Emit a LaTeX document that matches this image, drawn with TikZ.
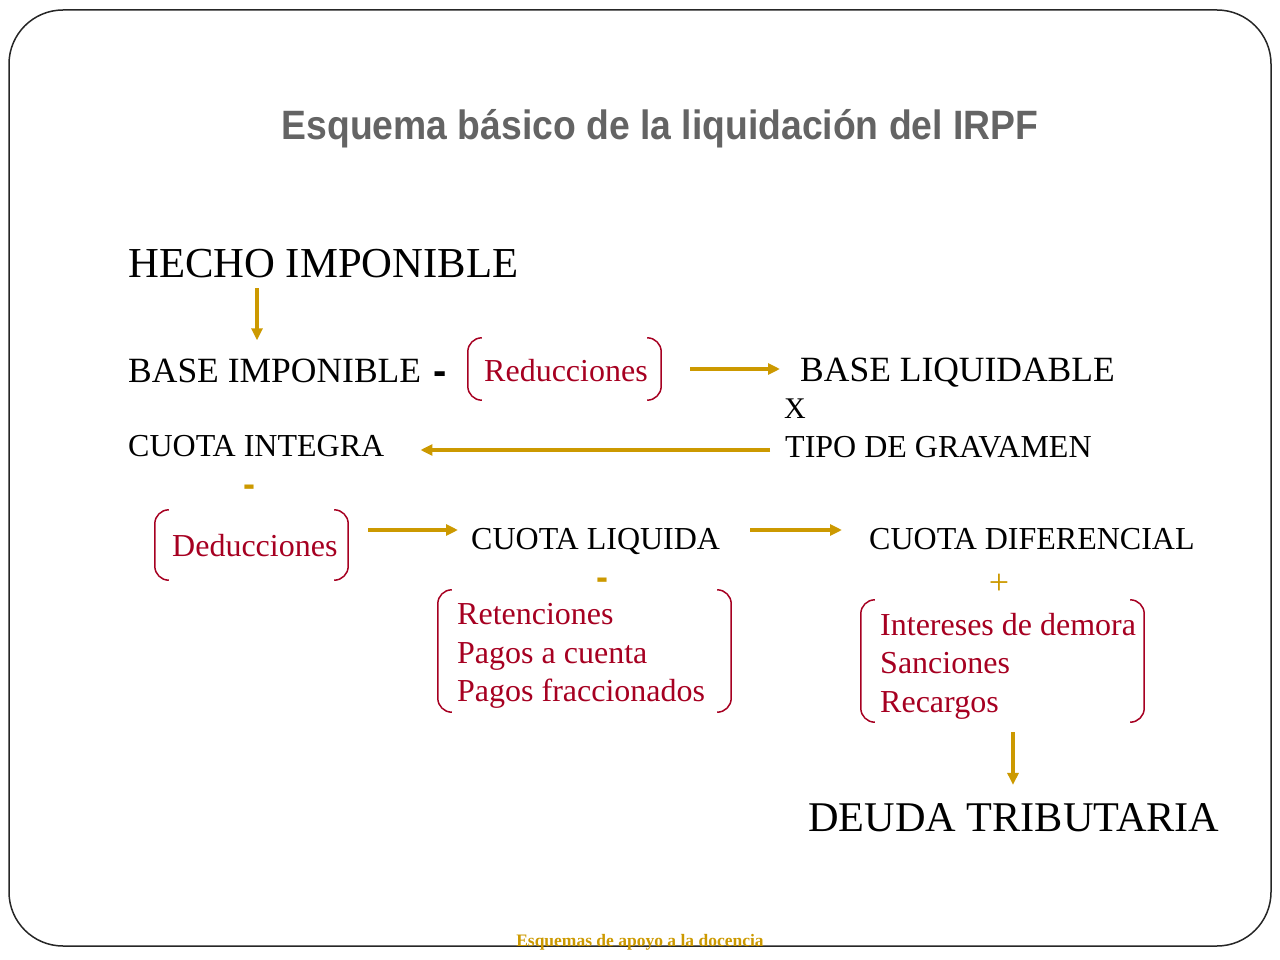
\documentclass[tikz,border=0pt]{standalone}
\usepackage{fontspec}
\setmainfont{Liberation Serif}
\newfontfamily\titlefont[FakeStretch=0.91]{Liberation Sans}
\newfontfamily\dashfont{Liberation Sans}
\usetikzlibrary{arrows.meta}
\definecolor{gold}{RGB}{204,153,0}
\definecolor{wine}{RGB}{166,0,33}
\definecolor{titlegray}{RGB}{100,100,100}
\tikzset{
  txt/.style={inner sep=0pt, anchor=base west, text=black},
  big/.style={txt, font=\fontsize{42.7}{50}\selectfont},
  mid/.style={txt, font=\fontsize{35.5}{42}\selectfont},
  sml/.style={txt, font=\fontsize{32}{38}\selectfont},
  redtxt/.style={txt, text=wine, font=\fontsize{32}{38}\selectfont},
  grp/.style={inner sep=0pt, draw=none},
  brk/.style={draw=wine, line width=1.5pt, rounded corners=14pt},
  arr/.style={draw=gold, line width=3.5pt, -{Triangle[length=12pt,width=11pt]}},
  sign/.style={inner sep=0pt, text=gold},
}
\newcommand\bracketgroup[1]{%
  \draw[brk] ([xshift=14pt]#1.north west) -- (#1.north west) -- (#1.south west) -- ([xshift=14pt]#1.south west);
  \draw[brk] ([xshift=-14pt]#1.north east) -- (#1.north east) -- (#1.south east) -- ([xshift=-14pt]#1.south east);}
\begin{document}
\begin{tikzpicture}[x=1pt,y=-1pt]
\useasboundingbox (0,0) rectangle (1280,960);
% frame
\draw[black!85, line width=1.5pt, rounded corners=54pt] (9,10) rectangle (1271,946);
% title
\node[inner sep=0pt, anchor=base, text=titlegray, font=\titlefont\bfseries\fontsize{41}{48}\selectfont] (title) at (660,140) {Esquema básico de la liquidación del IRPF};
% footer
\node[inner sep=0pt, anchor=base, text=gold, font=\bfseries\fontsize{17.5}{20}\selectfont] (footer) at (640,946) {Esquemas de apoyo a la docencia};

% main texts
\node[big] (hi) at (128,277) {HECHO IMPONIBLE};
\node[mid] (bi) at (128,382) {BASE IMPONIBLE};
\node[inner sep=0pt, font=\dashfont\bfseries\fontsize{40}{44}\selectfont] (m1) at (440,378) {-};
\node[mid] (bl) at (800,381) {BASE LIQUIDABLE};
\node[sml, font=\fontsize{30}{36}\selectfont] (x) at (784,418) {X};
\node[sml] (tg) at (785,457) {TIPO DE GRAVAMEN};
\node[sml] (ci) at (128,456) {CUOTA INTEGRA};
\node[sml] (cl) at (471,549) {CUOTA LIQUIDA};
\node[sml] (cd) at (869,549) {CUOTA DIFERENCIAL};
\node[big, font=\fontsize{42.3}{50}\selectfont] (dt) at (808,831) {DEUDA TRIBUTARIA};

% signs
\node[sign, font=\dashfont\bfseries\fontsize{36}{40}\selectfont] (m2) at (249,491) {-};
\node[sign, font=\dashfont\bfseries\fontsize{36}{40}\selectfont] (m3) at (602,584) {-};
\node[sign, font=\fontsize{36}{42}\selectfont] (p1) at (999,584) {+};

% bracket groups
\node[grp, minimum width=193pt, minimum height=62pt] (red) at (564.5,369) {};
\node[redtxt] (redt) at (484,381) {Reducciones};
\bracketgroup{red}

\node[grp, minimum width=193pt, minimum height=70pt] (ded) at (251.5,545) {};
\node[redtxt] (dedt) at (172,556) {Deducciones};
\bracketgroup{ded}

\node[grp, minimum width=293pt, minimum height=122pt] (ret) at (584.5,651) {};
\node[redtxt] (ret1) at (457,624) {Retenciones};
\node[redtxt] (ret2) at (457,663) {Pagos a cuenta};
\node[redtxt] (ret3) at (457,701) {Pagos fraccionados};
\bracketgroup{ret}

\node[grp, minimum width=283pt, minimum height=122pt] (int) at (1002.5,661) {};
\node[redtxt] (int1) at (880,635) {Intereses de demora};
\node[redtxt] (int2) at (880,673) {Sanciones};
\node[redtxt] (int3) at (880,712) {Recargos};
\bracketgroup{int}

% connectors
\coordinate (a1) at (257,288);
\draw[arr, shorten >=18pt] (a1) -- (a1 |- bi.north);
\draw[arr, shorten <=29pt, shorten >=20pt] (red.east) -- (red.east -| bl.west);
\coordinate (a3) at (770,450);
\draw[arr, shorten >=36pt] (a3) -- (a3 -| ci.east);
\coordinate (a4) at (368,530);
\draw[arr, shorten >=13pt] (a4) -- (a4 -| cl.west);
\coordinate (a5) at (750,530);
\draw[arr, shorten >=27pt] (a5) -- (a5 -| cd.west);
\coordinate (a6) at (1013,732);
\draw[arr, shorten >=18pt] (a6) -- (a6 |- dt.north);
\end{tikzpicture}
\end{document}
